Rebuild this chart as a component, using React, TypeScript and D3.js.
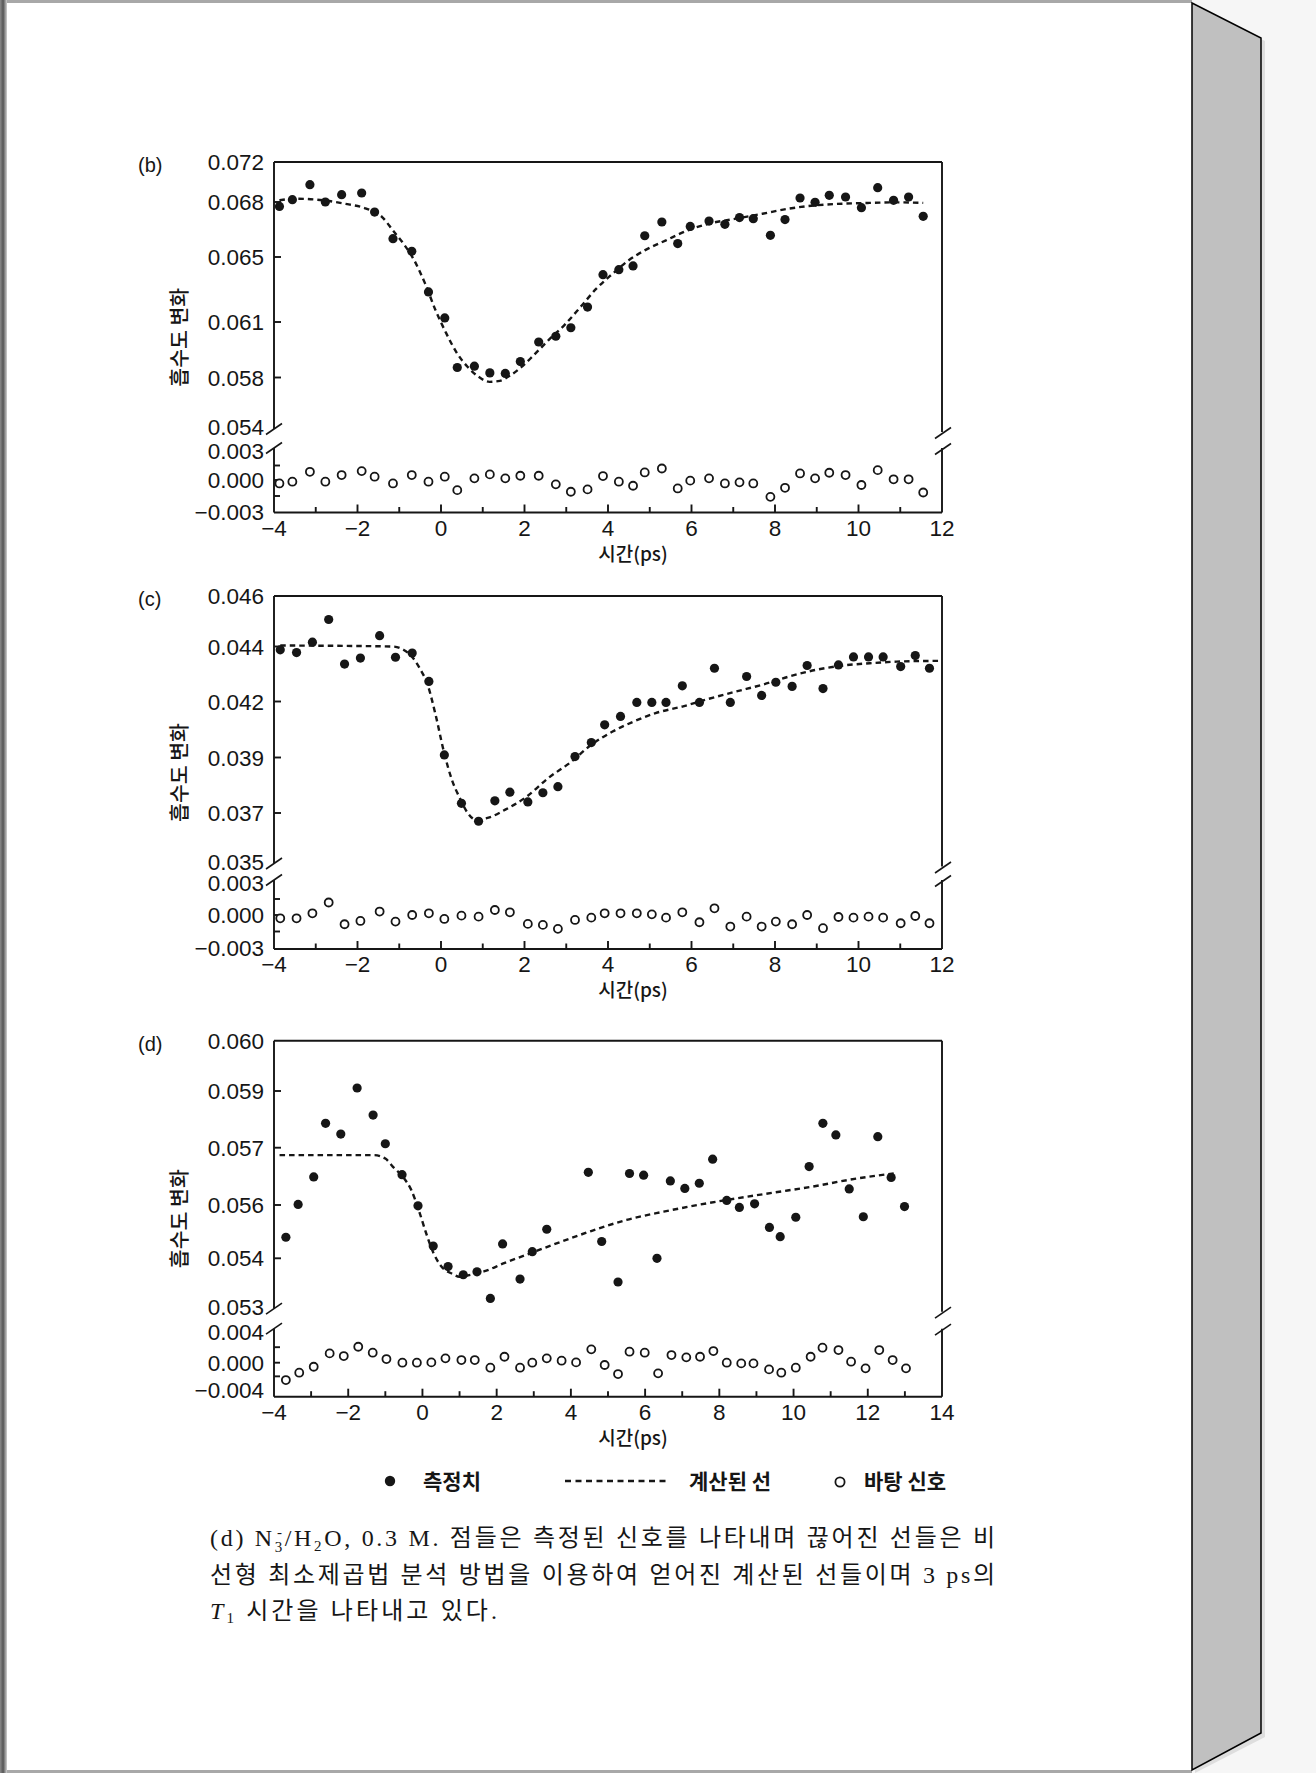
import React from 'react';
import * as d3 from 'd3';

const WIDTH = 1316;
const HEIGHT = 1773;

// ---- panel (b) ----
const bTime = [-3.87, -3.56, -3.14, -2.77, -2.38, -1.9, -1.59, -1.15, -0.7, -0.3, 0.09, 0.39, 0.8, 1.17, 1.54, 1.9, 2.34, 2.75, 3.11, 3.51, 3.88, 4.26, 4.6, 4.88, 5.29, 5.67, 5.97, 6.42, 6.8, 7.15, 7.48, 7.89, 8.24, 8.6, 8.96, 9.3, 9.69, 10.07, 10.46, 10.84, 11.2, 11.55];
const bMeasured = [0.06776, 0.06823, 0.06973, 0.068, 0.06873, 0.0689, 0.06745, 0.066, 0.06531, 0.06285, 0.06125, 0.05854, 0.05861, 0.05825, 0.05822, 0.05886, 0.05992, 0.06023, 0.06069, 0.06192, 0.06391, 0.06422, 0.06445, 0.06616, 0.06691, 0.06573, 0.06667, 0.06696, 0.06678, 0.06715, 0.06709, 0.06618, 0.06704, 0.0684, 0.06798, 0.06867, 0.0685, 0.06769, 0.06943, 0.06817, 0.0685, 0.06722];
const bBackground = [-0.00032, -0.00016, 0.00085, -0.00016, 0.00051, 0.00092, 0.00034, -0.00032, 0.00051, -0.00016, 0.00034, -0.00095, 0.00017, 0.00058, 0.00017, 0.00044, 0.00044, -0.00041, -0.0011, -0.00088, 0.00041, -0.00016, -0.00054, 0.00078, 0.00119, -0.00079, -0.00006, 0.00017, -0.00032, -0.00022, -0.00032, -0.00158, -0.00073, 0.00068, 0.00017, 0.00075, 0.00051, -0.00047, 0.00102, 0.00007, 0.00007, -0.00117];
const bFitTime = [-3.87, -3.46, -2.82, -2.31, -1.79, -1.41, -1.15, -0.9, -0.64, -0.38, -0.13, 0.13, 0.39, 0.64, 0.9, 1.16, 1.41, 1.67, 1.93, 2.18, 2.57, 2.95, 3.34, 3.72, 4.11, 4.49, 4.88, 5.39, 5.91, 6.42, 7.06, 7.7, 8.34, 8.98, 9.63, 10.27, 10.91, 11.55];
const bFit = [0.06817, 0.06833, 0.06817, 0.06791, 0.06764, 0.06718, 0.06645, 0.06573, 0.06479, 0.06336, 0.06172, 0.06037, 0.05929, 0.05857, 0.05804, 0.05765, 0.05773, 0.05813, 0.05857, 0.05911, 0.06001, 0.06082, 0.06192, 0.06305, 0.06397, 0.06479, 0.06536, 0.06591, 0.06645, 0.06682, 0.06709, 0.06736, 0.06764, 0.06782, 0.06791, 0.06795, 0.06798, 0.06795];
const bUpperTicks = [0.054, 0.058, 0.061, 0.065, 0.068, 0.072];
const bLowerTicks = [-0.003, 0, 0.003];
const bXTicks = [-4, -2, 0, 2, 4, 6, 8, 10, 12];

// ---- panel (c) ----
const cTime = [-3.85, -3.46, -3.08, -2.69, -2.31, -1.93, -1.47, -1.09, -0.69, -0.29, 0.08, 0.49, 0.9, 1.29, 1.65, 2.08, 2.44, 2.8, 3.21, 3.6, 3.92, 4.3, 4.69, 5.05, 5.39, 5.78, 6.19, 6.55, 6.93, 7.32, 7.68, 8.02, 8.41, 8.77, 9.15, 9.52, 9.88, 10.24, 10.59, 11.01, 11.36, 11.7];
const cMeasured = [0.04388, 0.04378, 0.04417, 0.04507, 0.04336, 0.04358, 0.04443, 0.04361, 0.04376, 0.04273, 0.03914, 0.03735, 0.03666, 0.03744, 0.03775, 0.0374, 0.03773, 0.03795, 0.03905, 0.0398, 0.04075, 0.0412, 0.04195, 0.04195, 0.04195, 0.04257, 0.04195, 0.04321, 0.04195, 0.04291, 0.04222, 0.0427, 0.04255, 0.04331, 0.04247, 0.04333, 0.04362, 0.04362, 0.04362, 0.04327, 0.04367, 0.04321];
const cBackground = [-0.0003, -0.0003, 0.00016, 0.00117, -0.00084, -0.00054, 0.00032, -0.0006, 0, 0.00016, -0.00036, -0.00006, -0.00015, 0.00047, 0.00025, -0.00081, -0.0009, -0.00126, -0.00045, -0.00024, 0.00016, 0.00016, 0.00016, 0.00006, -0.00024, 0.00025, -0.00066, 0.00063, -0.00105, -0.00015, -0.00105, -0.0006, -0.00084, 0, -0.0012, -0.00018, -0.00024, -0.00015, -0.00024, -0.00075, -0.00009, -0.00075];
const cFitTime = [-3.85, -1.15, -0.9, -0.7, -0.51, -0.32, -0.13, 0.07, 0.26, 0.45, 0.64, 0.84, 1.16, 1.54, 2.06, 2.57, 3.08, 3.6, 4.11, 4.62, 5.14, 5.78, 6.42, 7.06, 7.7, 8.34, 8.98, 9.63, 10.27, 10.91, 12.0];
const cFit = [0.04404, 0.044, 0.04388, 0.04364, 0.04321, 0.04261, 0.04129, 0.0393, 0.0382, 0.03754, 0.037, 0.03672, 0.03682, 0.03712, 0.0376, 0.03826, 0.0388, 0.03968, 0.04039, 0.04093, 0.04138, 0.04173, 0.0421, 0.04236, 0.04261, 0.04291, 0.04315, 0.04331, 0.04339, 0.04345, 0.04348];
const cUpperTicks = [0.035, 0.037, 0.039, 0.042, 0.044, 0.046];
const cLowerTicks = [-0.003, 0, 0.003];
const cXTicks = [-4, -2, 0, 2, 4, 6, 8, 10, 12];

// ---- panel (d) ----
const dTime = [-3.68, -3.35, -2.93, -2.61, -2.2, -1.76, -1.33, -1.0, -0.55, -0.12, 0.29, 0.69, 1.1, 1.47, 1.83, 2.16, 2.63, 2.96, 3.35, 4.47, 4.83, 5.27, 5.58, 5.96, 6.32, 6.68, 7.07, 7.46, 7.82, 8.2, 8.54, 8.95, 9.35, 9.64, 10.06, 10.42, 10.79, 11.14, 11.5, 11.88, 12.27, 12.63, 12.99];
const dMeasured = [0.05479, 0.05601, 0.05649, 0.05786, 0.05748, 0.05906, 0.05815, 0.05714, 0.05653, 0.05597, 0.05446, 0.05383, 0.05366, 0.05372, 0.05317, 0.05454, 0.05357, 0.05425, 0.05509, 0.05657, 0.05463, 0.05351, 0.05655, 0.05652, 0.054, 0.05642, 0.05629, 0.05638, 0.0568, 0.05608, 0.05591, 0.05602, 0.05516, 0.05481, 0.05554, 0.05667, 0.05786, 0.05745, 0.05628, 0.05556, 0.05739, 0.05648, 0.05594];
const dBackgroundTime = [-3.68, -3.32, -2.93, -2.5, -2.12, -1.73, -1.34, -0.97, -0.54, -0.15, 0.24, 0.62, 1.05, 1.41, 1.83, 2.21, 2.63, 2.96, 3.35, 3.75, 4.14, 4.55, 4.91, 5.27, 5.58, 5.99, 6.35, 6.71, 7.11, 7.48, 7.84, 8.2, 8.59, 8.92, 9.34, 9.67, 10.06, 10.46, 10.78, 11.21, 11.55, 11.94, 12.31, 12.67, 13.03];
const dBackground = [-0.00254, -0.00146, -0.00059, 0.0012, 0.00086, 0.00206, 0.00129, 0.00047, 0, 0, 0.00004, 0.00056, 0.00034, 0.00034, -0.00073, 0.00077, -0.00073, 0, 0.00056, 0.00026, 0.00004, 0.00172, -0.00034, -0.00166, 0.00142, 0.00129, -0.00156, 0.00099, 0.00069, 0.00077, 0.0015, 0, -0.0001, -0.0001, -0.00098, -0.00146, -0.00073, 0.00077, 0.00194, 0.00163, 0.00013, -0.00083, 0.00163, 0.00034, -0.00083];
const dFitTime = [-3.85, -1.3, -1.0, -0.8, -0.5, -0.3, -0.1, 0.1, 0.3, 0.5, 0.8, 1.0, 1.3, 1.7, 2.2, 2.8, 3.5, 4.5, 5.5, 6.5, 7.5, 8.5, 9.5, 10.5, 11.5, 12.8];
const dFit = [0.05687, 0.05687, 0.05681, 0.05667, 0.05647, 0.05626, 0.05581, 0.05494, 0.05419, 0.05384, 0.05368, 0.05362, 0.05366, 0.05374, 0.0539, 0.05413, 0.0545, 0.055, 0.05544, 0.05575, 0.05601, 0.05612, 0.05622, 0.05632, 0.05644, 0.05656];
const dUpperTicks = [0.053, 0.054, 0.056, 0.057, 0.059, 0.06];
const dLowerTicks = [-0.004, 0, 0.004];
const dXTicks = [-4, -2, 0, 2, 4, 6, 8, 10, 12, 14];

const legendLabels = ['측정치', '계산된 선', '바탕 신호'];

interface PanelData {
  label: string;
  xTicks: number[];
  upperTicks: number[];
  lowerTicks: number[];
  time: number[];
  measured: number[];
  backgroundTime: number[];
  background: number[];
  fitTime: number[];
  fit: number[];
}

interface PanelLayout {
  top: number;
  height: number;
  upperOffsets: number[];
  lowerOffsets: number[];
}

const LEFT = 274;
const RIGHT = 942;
const INK = '#161616';
const SANS = "'Liberation Sans', Arial, sans-serif";
const KOR = "'Noto Sans CJK KR', 'Liberation Sans', sans-serif";
const fmt = d3.format('.3f');

const panels: { data: PanelData; layout: PanelLayout }[] = [
  {
    data: { label: '(b)', xTicks: bXTicks, upperTicks: bUpperTicks, lowerTicks: bLowerTicks, time: bTime, measured: bMeasured, backgroundTime: bTime, background: bBackground, fitTime: bFitTime, fit: bFit },
    layout: { top: 162, height: 350.5, upperOffsets: [265, 215.5, 160, 95, 40, 0], lowerOffsets: [350, 318, 289] },
  },
  {
    data: { label: '(c)', xTicks: cXTicks, upperTicks: cUpperTicks, lowerTicks: cLowerTicks, time: cTime, measured: cMeasured, backgroundTime: cTime, background: cBackground, fitTime: cFitTime, fit: cFit },
    layout: { top: 596, height: 353, upperOffsets: [265.5, 217, 161.5, 105.5, 50.5, 0], lowerOffsets: [352, 319, 287] },
  },
  {
    data: { label: '(d)', xTicks: dXTicks, upperTicks: dUpperTicks, lowerTicks: dLowerTicks, time: dTime, measured: dMeasured, backgroundTime: dBackgroundTime, background: dBackground, fitTime: dFitTime, fit: dFit },
    layout: { top: 1040.7, height: 356, upperOffsets: [266, 217.6, 164.3, 107, 50.3, 0], lowerOffsets: [349.3, 322, 291] },
  },
];

const Panel: React.FC<{ data: PanelData; layout: PanelLayout }> = ({ data, layout }) => {
  const [xMin, xMax] = d3.extent(data.xTicks) as [number, number];
  const x = d3.scaleLinear().domain([xMin, xMax]).range([LEFT, RIGHT]);
  // piecewise scales: the printed tick labels are not evenly spaced
  const yU = d3.scaleLinear().domain(data.upperTicks).range(layout.upperOffsets.map(o => layout.top + o));
  const yL = d3.scaleLinear().domain(data.lowerTicks).range(layout.lowerOffsets.map(o => layout.top + o));
  const top = layout.top;
  const bottom = layout.top + layout.height;
  const upperEnd = yU(data.upperTicks[0]) + 2;
  const lowerStart = yL(data.lowerTicks[data.lowerTicks.length - 1]) - 3;

  const fitPath = d3.line<number>()
    .x((_, i) => x(data.fitTime[i]))
    .y(d => yU(d))
    .curve(d3.curveMonotoneX)(data.fit) ?? '';

  const xMinor = d3.range(xMin + 1, xMax, 1);
  const yUpperInner = data.upperTicks.slice(1, -1);
  const lowerMinor = d3.pairs(data.lowerTicks).map(([a, b]) => (a + b) / 2);
  const slash = (cx: number, cy: number) => `M${cx - 8},${cy + 5.5}L${cx + 8},${cy - 5.5}`;

  return (
    <g>
      <text x={138} y={top + 10} fontFamily={SANS} fontSize={20} fill={INK}>{data.label}</text>

      {/* frame */}
      <g stroke={INK} strokeWidth={1.9} fill="none">
        <line x1={LEFT} x2={RIGHT} y1={top} y2={top} />
        <line x1={LEFT} x2={RIGHT} y1={bottom} y2={bottom} />
        <line x1={LEFT} x2={LEFT} y1={top} y2={upperEnd} />
        <line x1={LEFT} x2={LEFT} y1={lowerStart} y2={bottom} />
        <line x1={RIGHT} x2={RIGHT} y1={top} y2={upperEnd + 3} />
        <line x1={RIGHT} x2={RIGHT} y1={lowerStart} y2={bottom} />
        <path d={slash(LEFT, upperEnd)} strokeWidth={1.6} />
        <path d={slash(LEFT, lowerStart)} strokeWidth={1.6} />
        <path d={slash(RIGHT + 1, upperEnd + 4)} strokeWidth={1.6} />
        <path d={slash(RIGHT + 1, lowerStart + 1)} strokeWidth={1.6} />
        {xMinor.map(t => (
          <line key={`xt${t}`} x1={x(t)} x2={x(t)} y1={bottom} y2={bottom - (t % 2 === 0 ? 8 : 5.5)} />
        ))}
        {yUpperInner.map(t => (
          <line key={`yu${t}`} x1={LEFT} x2={LEFT + 7} y1={yU(t)} y2={yU(t)} />
        ))}
        {lowerMinor.concat([0]).map(t => (
          <line key={`yl${t}`} x1={LEFT} x2={LEFT + 6} y1={yL(t)} y2={yL(t)} />
        ))}
      </g>

      {/* y tick labels */}
      <g fontFamily={SANS} fontSize={22.5} fill={INK} textAnchor="end">
        {data.upperTicks.map(t => (
          <text key={`lu${t}`} x={264} y={yU(t)} dy="0.36em">{fmt(t)}</text>
        ))}
        {data.lowerTicks.map(t => (
          <text key={`ll${t}`} x={264} y={yL(t)} dy="0.36em">{fmt(t)}</text>
        ))}
      </g>

      {/* x tick labels */}
      <g fontFamily={SANS} fontSize={22.5} fill={INK} textAnchor="middle">
        {data.xTicks.map(t => (
          <text key={`lx${t}`} x={x(t)} y={bottom + 23}>{t < 0 ? `\u2212${Math.abs(t)}` : t}</text>
        ))}
      </g>

      <text x={633} y={bottom + 48} fontFamily={KOR} fontSize={19} fontWeight={500} fill={INK} textAnchor="middle">시간(ps)</text>
      <text
        transform={`translate(180,${(top + bottom) / 2}) rotate(-90)`}
        fontFamily={KOR} fontSize={20.5} fontWeight={500} fill={INK} textAnchor="middle" dy="0.35em"
      >흡수도 변화</text>

      {/* fit curve */}
      <path d={fitPath} fill="none" stroke={INK} strokeWidth={2.4} strokeDasharray="5.5 4" />

      {/* measured points */}
      {data.measured.map((v, i) => (
        <circle key={`m${i}`} cx={x(data.time[i])} cy={yU(v)} r={4.6} fill={INK} />
      ))}

      {/* background signal */}
      {data.background.map((v, i) => (
        <circle key={`b${i}`} cx={x(data.backgroundTime[i])} cy={yL(v)} r={4} fill="#fff" stroke={INK} strokeWidth={1.8} />
      ))}
    </g>
  );
};

const SERIF = "'Liberation Serif', 'Noto Sans CJK KR', serif";

const App: React.FC = () => {
  const legendY = 1481;
  return (
    <svg
      width={WIDTH}
      height={HEIGHT}
      viewBox={`0 0 ${WIDTH} ${HEIGHT}`}
      style={{ position: 'absolute', left: 0, top: 0, display: 'block' }}
    >
      <defs>
        <linearGradient id="leftEdge" x1="0" x2="1" y1="0" y2="0">
          <stop offset="0" stopColor="#8a8a8a" />
          <stop offset="0.45" stopColor="#555" />
          <stop offset="1" stopColor="#d0d0d0" />
        </linearGradient>
      </defs>

      {/* page */}
      <rect x={0} y={0} width={WIDTH} height={HEIGHT} fill="#f6f6f6" />
      <rect x={0} y={0} width={1192} height={HEIGHT} fill="#fff" />
      <rect x={0} y={0} width={1192} height={3} fill="#a8a8a8" />
      <rect x={0} y={HEIGHT - 3} width={1192} height={3} fill="#a8a8a8" />
      <rect x={0} y={0} width={7} height={HEIGHT} fill="url(#leftEdge)" />
      <polygon points="1195,6 1265,41 1265,1737 1195,1773" fill="#dedede" />
      <polygon points="1192,3 1261,38 1261,1733 1192,1770" fill="#c0c0c0" stroke="#000" strokeWidth={1.5} />

      {panels.map(p => (
        <Panel key={p.data.label} data={p.data} layout={p.layout} />
      ))}

      {/* legend */}
      <g fontFamily={KOR} fontSize={21} fontWeight={700} fill={INK}>
        <circle cx={390} cy={legendY} r={5.2} fill={INK} />
        <text x={423} y={legendY + 8}>{legendLabels[0]}</text>
        <line x1={565} x2={667} y1={legendY} y2={legendY} stroke={INK} strokeWidth={2.4} strokeDasharray="6 4.5" />
        <text x={689} y={legendY + 8}>{legendLabels[1]}</text>
        <circle cx={840} cy={legendY + 1} r={4.6} fill="#fff" stroke={INK} strokeWidth={1.8} />
        <text x={864} y={legendY + 8}>{legendLabels[2]}</text>
      </g>

      {/* caption */}
      <g fontFamily={SERIF} fontSize={24} fill={INK}>
        <text x={210} y={1546} textLength={785} lengthAdjust="spacing">
          (d) N<tspan fontSize={15} dy={6}>3</tspan><tspan fontSize={15} dx={-8} dy={-15}>-</tspan><tspan dy={9}>/H</tspan><tspan fontSize={15} dy={5}>2</tspan><tspan dy={-5}>O, 0.3 M. 점들은 측정된 신호를 나타내며 끊어진 선들은 비</tspan>
        </text>
        <text x={210} y={1583} textLength={785} lengthAdjust="spacing">
          선형 최소제곱법 분석 방법을 이용하여 얻어진 계산된 선들이며 3 ps의
        </text>
        <text x={210} y={1619} textLength={287} lengthAdjust="spacing">
          <tspan fontStyle="italic">T</tspan><tspan fontSize={15} dy={4}>1</tspan><tspan dy={-4}> 시간을 나타내고 있다.</tspan>
        </text>
      </g>
    </svg>
  );
};

export default App;
